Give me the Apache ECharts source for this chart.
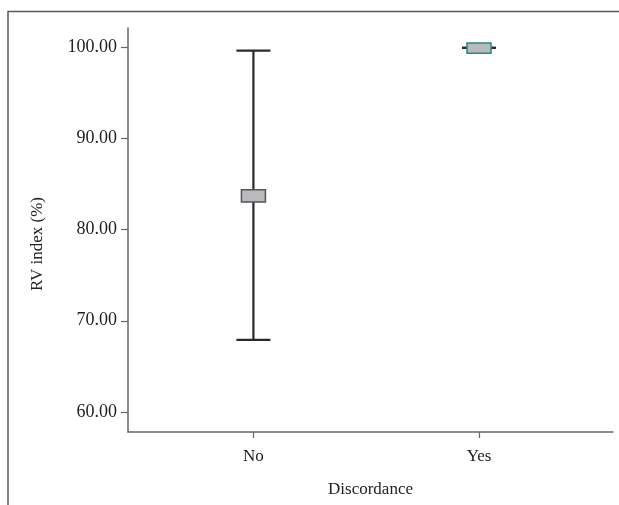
<!DOCTYPE html>
<html>
<head>
<meta charset="utf-8">
<script src="https://cdn.jsdelivr.net/npm/echarts@6/dist/echarts.min.js"></script>
<style>
  html, body { margin: 0; padding: 0; background: #fff; }
  #chart { width: 619px; height: 505px; }
</style>
</head>
<body>
<div id="chart"></div>
<script>
var categories = ['No', 'Yes'];
var whiskerLow = [67.9, 99.9];   // lower end of error bar
var whiskerHigh = [99.6, 99.9];  // upper end of error bar
var boxLow = [83.0, 99.3];
var boxHigh = [84.35, 100.45];
var yTicks = [60, 70, 80, 90, 100];

var chart = echarts.init(document.getElementById('chart'));
var font = '"Liberation Serif", "Times New Roman", serif';

var seriesData = categories.map(function (c, i) {
    return [i, whiskerLow[i], whiskerHigh[i], boxLow[i], boxHigh[i]];
});

var option = {
    animation: false,
    textStyle: { fontFamily: font },
    grid: { left: 128, top: 28, right: 6, bottom: 73 },
    graphic: [{
        // outer frame (top + left only)
        type: 'polyline',
        shape: { points: [[8, 505], [8, 11.5], [619, 11.5]] },
        style: { stroke: '#5a5a5a', lineWidth: 1.5, fill: null },
        silent: true
    }],
    xAxis: {
        type: 'value',
        min: -0.556,
        max: 1.594,
        name: 'Discordance',
        nameLocation: 'middle',
        nameGap: 49,
        nameTextStyle: { color: '#222', fontSize: 17, fontFamily: font },
        splitLine: { show: false },
        axisLine: { onZero: false, lineStyle: { color: '#666', width: 1.5 } },
        axisTick: {
            show: true, length: 6, customValues: [0, 1],
            lineStyle: { color: '#666', width: 1.2 }
        },
        axisLabel: {
            customValues: [0, 1],
            margin: 16,
            color: '#222',
            fontSize: 17,
            fontFamily: font,
            formatter: function (v) { return categories[Math.round(v)]; }
        }
    },
    yAxis: {
        type: 'value',
        min: 57.81,
        max: 102.08,
        name: 'RV index (%)',
        nameLocation: 'middle',
        nameGap: 82,
        nameTextStyle: { color: '#222', fontSize: 17, fontFamily: font, padding: [0, 28, 0, 0] },
        splitLine: { show: false },
        axisLine: { show: true, onZero: false, lineStyle: { color: '#666', width: 1.5 } },
        axisTick: {
            show: true, length: 7, customValues: yTicks,
            lineStyle: { color: '#666', width: 1.2 }
        },
        axisLabel: {
            customValues: yTicks,
            margin: 11,
            color: '#222',
            fontSize: 18,
            fontFamily: font,
            formatter: function (v) { return v.toFixed(2); }
        }
    },
    series: [{
        type: 'custom',
        data: seriesData,
        renderItem: function (params, api) {
            var x = api.value(0);
            var lo = api.coord([x, api.value(1)]);
            var hi = api.coord([x, api.value(2)]);
            var bLo = api.coord([x, api.value(3)]);
            var bHi = api.coord([x, api.value(4)]);
            var capHalf = 17;
            var boxHalf = 12;
            var lineStyle = { stroke: '#2a2a2a', lineWidth: 2.2 };
            var border = x === 1 ? '#2a8a80' : '#555';
            return {
                type: 'group',
                children: [
                    { type: 'line', shape: { x1: lo[0], y1: lo[1], x2: hi[0], y2: hi[1] }, style: lineStyle },
                    { type: 'line', shape: { x1: hi[0] - capHalf, y1: hi[1], x2: hi[0] + capHalf, y2: hi[1] }, style: lineStyle },
                    { type: 'line', shape: { x1: lo[0] - capHalf, y1: lo[1], x2: lo[0] + capHalf, y2: lo[1] }, style: lineStyle },
                    {
                        type: 'rect',
                        shape: { x: bHi[0] - boxHalf, y: bHi[1], width: boxHalf * 2, height: bLo[1] - bHi[1] },
                        style: { fill: '#b9babe', stroke: border, lineWidth: 1.5 }
                    }
                ]
            };
        }
    }]
};
chart.setOption(option);
</script>
</body>
</html>
